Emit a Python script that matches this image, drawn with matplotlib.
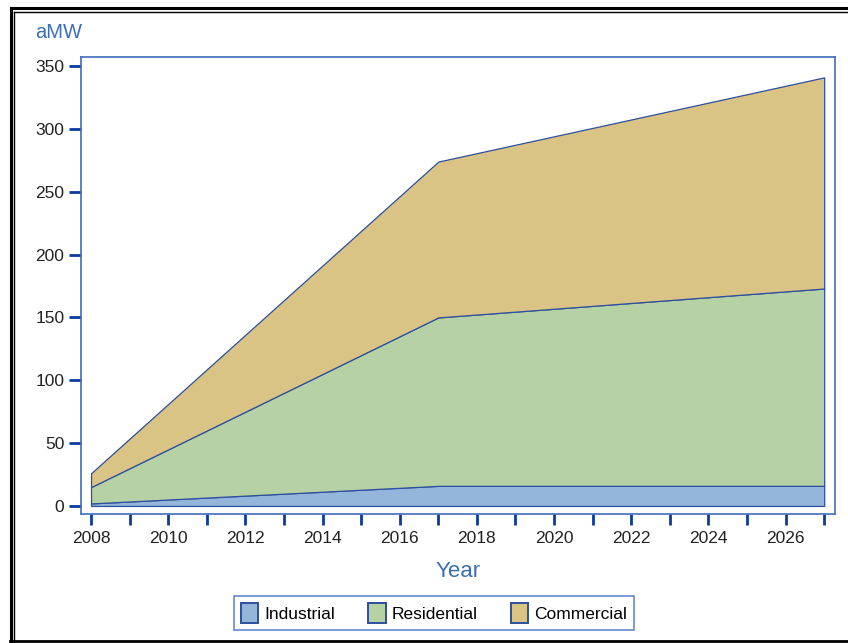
import matplotlib
matplotlib.use("Agg")
import matplotlib.pyplot as plt
from matplotlib.lines import Line2D

plt.rcParams["font.family"] = ["Liberation Sans", "DejaVu Sans"]

# stacked load values (aMW)
years = [2008, 2017, 2027]
industrial = [2, 16, 16]
residential = [13, 134, 157]
commercial = [11, 124, 168]
series_names = ["Industrial", "Residential", "Commercial"]
colors = ["#94b6db", "#b6d1a3", "#dac485"]

tick_years = list(range(2008, 2028))
label_years = list(range(2008, 2028, 2))
y_ticks = [0, 50, 100, 150, 200, 250, 300, 350]

W, H = 848, 643
fig = plt.figure(figsize=(W / 100, H / 100), dpi=100)
fig.patch.set_facecolor("white")


def frame_line(xs, ys, lw):
    fig.lines.append(Line2D([x / W for x in xs], [1 - y / H for y in ys],
                            transform=fig.transFigure, color="black", linewidth=lw))


# double frame (right side is cropped off in the original)
frame_line([10.5, 848], [7.5, 7.5], 2.2)
frame_line([13.5, 848], [11.5, 11.5], 1.0)
frame_line([10.5, 10.5], [7.5, 643], 2.2)
frame_line([13.5, 13.5], [11.5, 643], 1.0)
frame_line([10, 848], [640.5, 640.5], 2.0)

ax = fig.add_axes([81 / W, 1 - 514 / H, (835 - 81) / W, (514 - 57) / H])

ax.stackplot(years, industrial, residential, commercial, colors=colors,
             edgecolor="#2d4f9e", linewidth=0.9, labels=series_names)

ax.set_xlim(2007.74, 2027.28)
ax.set_ylim(-6.4, 357.2)
ax.set_xticks(tick_years)
ax.set_xticklabels([str(y) if y in label_years else "" for y in tick_years])
ax.set_yticks(y_ticks)

for sp in ax.spines.values():
    sp.set_edgecolor("#3f6cc0")
    sp.set_linewidth(1.2)
ax.tick_params(direction="out", length=8.5, width=2, color="#0b3a9e",
               labelsize=12.5, labelcolor="#222222", pad=3.5)
ax.tick_params(axis="x", length=8, pad=4)

ax.set_xlabel("Year", color="#3a6fb5", fontsize=16, labelpad=11)
fig.text(35 / W, 1 - 33 / H, "aMW", color="#3a6fb5", fontsize=14.5, va="center", ha="left")

leg = fig.legend(loc="center", bbox_to_anchor=(434 / W, 1 - 613 / H), ncol=3,
                 frameon=True, fancybox=False, fontsize=12.5,
                 handlelength=1.0, handleheight=1.35, columnspacing=1.9,
                 handletextpad=0.35, borderpad=0.4, borderaxespad=0)
leg.get_frame().set_edgecolor("#3f6cc0")
leg.get_frame().set_linewidth(1.2)
for h in leg.legend_handles:
    h.set_edgecolor("#2d4f9e")
    h.set_linewidth(1.4)

fig.savefig("out.png", dpi=100, facecolor="white")
